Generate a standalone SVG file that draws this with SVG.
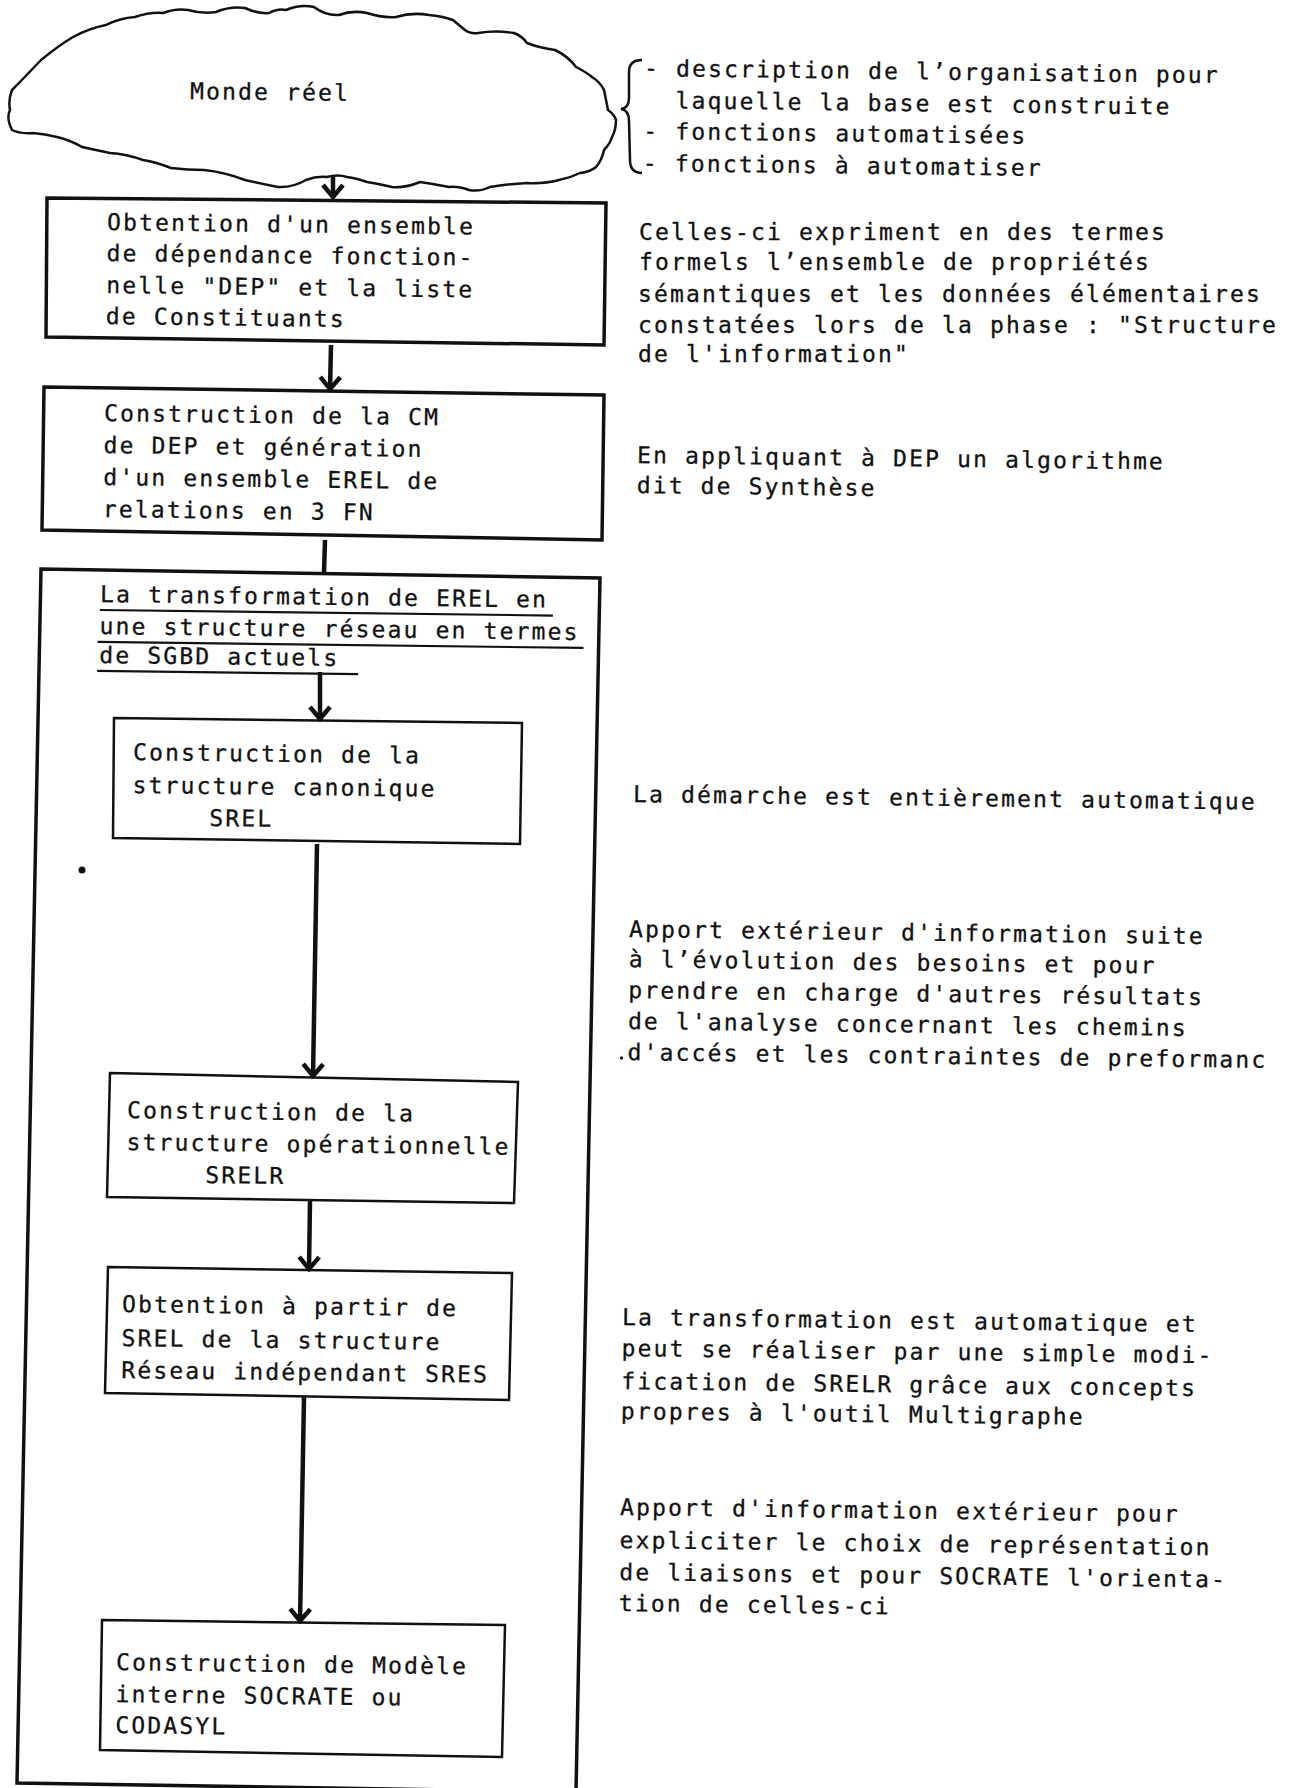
<svg xmlns="http://www.w3.org/2000/svg" width="1290" height="1788" viewBox="0 0 1290 1788">
<defs>
<style>
.t{font-family:"DejaVu Sans Mono","Liberation Mono",monospace;font-size:23px;letter-spacing:2.15px;fill:#111;stroke:#111;stroke-width:0.3}
.box{fill:none;stroke:#111;stroke-width:3.5;stroke-linejoin:miter}
.ibox{fill:none;stroke:#111;stroke-width:2.5}
.con{fill:none;stroke:#111;stroke-width:4.5}
.ul{fill:none;stroke:#111;stroke-width:2.2}
</style>
<marker id="arr" viewBox="-16 -12 18 24" markerWidth="18" markerHeight="24" refX="0" refY="0" orient="auto" markerUnits="userSpaceOnUse">
<path d="M-13,-10 L-1,0 L-13,10" fill="none" stroke="#111" stroke-width="4.5"/>
</marker>
</defs>
<rect width="1290" height="1788" fill="#fff"/>

<g id="monde-reel">
<path class="ibox" d="M12,130 Q6,118 10,110 Q8,100 12,90 Q24,78 41,60 Q58,46 73,37 Q90,28 106,25 Q120,18 135,17 Q150,12 163,13 Q176,8 188,10 Q202,14 216,12 Q230,6 245,8 Q258,14 269,13 Q278,8 286,10 Q300,4 314,7 Q326,16 339,15 Q352,10 367,13 Q382,18 396,17 Q412,12 429,15 Q442,16 453,20 Q460,26 465,30 Q470,34 478,33 Q496,30 514,33 Q522,36 527,43 Q540,48 555,50 Q568,56 576,67 Q586,72 592,77 Q600,82 604,90 Q606,100 608,110 Q614,114 616,120 Q616,130 612,137 Q610,144 604,150 Q602,160 596,167 Q590,172 580,173 Q570,178 559,180 Q544,184 527,183 Q508,184 490,187 Q480,192 469,190 Q458,186 449,187 Q434,184 420,182 Q406,188 392,187 Q380,184 367,182 Q356,178 347,177 Q338,174 327,177 Q316,176 306,180 Q292,188 278,187 Q262,184 245,180 Q224,172 204,170 Q188,170 171,168 Q156,162 143,160 Q126,154 110,153 Q96,150 82,147 Q70,140 57,137 Q45,134 33,133 Q20,134 12,130 Z"/>
<text class="t" x="190" y="99" transform="rotate(0.7 190 99)">Monde réel</text>
</g>

<g id="note-monde">
<path fill="none" stroke="#111" stroke-width="2.5" d="M642,60 Q629,60 629,72 L629,98 Q629,108 621,109 Q629,110 629,121 L630,160 Q630,173 642,173"/>
<g transform="rotate(0.7 644 76)">
<text class="t" x="644" y="76">- description de l’organisation pour</text>
<text class="t" x="676" y="108">laquelle la base est construite</text>
<text class="t" x="644" y="139">- fonctions automatisées</text>
<text class="t" x="644" y="171">- fonctions à automatiser</text>
</g>
</g>

<g id="n1">
<polygon class="box" points="47,198 606,203 604,345 46,337"/>
<g transform="rotate(0.7 107 230)">
<text class="t" x="107" y="230">Obtention d'un ensemble</text>
<text class="t" x="107" y="261">de dépendance fonction-</text>
<text class="t" x="107" y="293">nelle &quot;DEP&quot; et la liste</text>
<text class="t" x="107" y="324">de Constituants</text>
</g>
</g>

<g id="n2">
<polygon class="box" points="44,387 604,395 602,540 42,530"/>
<g transform="rotate(0.7 104 421)">
<text class="t" x="104" y="421">Construction de la CM</text>
<text class="t" x="104" y="453">de DEP et génération</text>
<text class="t" x="104" y="485">d'un ensemble EREL de</text>
<text class="t" x="104" y="517">relations en 3 FN</text>
</g>
</g>

<g id="n-transformation">
<polygon class="box" points="41,569 600,578 576,1792 17,1783"/>
<g transform="rotate(0.7 100 602)">
<text class="t" x="100" y="602">La transformation de EREL en</text>
<line class="ul" x1="100" y1="610" x2="553" y2="610"/>
<text class="t" x="100" y="634">une structure réseau en termes</text>
<line class="ul" x1="98" y1="642" x2="584" y2="642"/>
<text class="t" x="100" y="663">de SGBD actuels</text>
<line class="ul" x1="98" y1="671" x2="359" y2="671"/>
</g>
</g>

<g id="n3">
<polygon class="ibox" points="114,718 522,723 520,844 113,838"/>
<g transform="rotate(0.7 133 760)">
<text class="t" x="133" y="760">Construction de la</text>
<text class="t" x="133" y="793">structure canonique</text>
<text class="t" x="210" y="825">SREL</text>
</g>
</g>

<g id="n4">
<polygon class="ibox" points="110,1073 518,1082 514,1203 107,1197"/>
<g transform="rotate(0.7 127 1118)">
<text class="t" x="127" y="1118">Construction de la</text>
<text class="t" x="127" y="1150">structure opérationnelle</text>
<text class="t" x="206" y="1182">SRELR</text>
</g>
</g>

<g id="n5">
<polygon class="ibox" points="108,1267 512,1273 509,1400 105,1393"/>
<g transform="rotate(0.7 122 1312)">
<text class="t" x="122" y="1312">Obtention à partir de</text>
<text class="t" x="122" y="1346">SREL de la structure</text>
<text class="t" x="122" y="1378">Réseau indépendant SRES</text>
</g>
</g>

<g id="n6">
<polygon class="ibox" points="102,1620 505,1625 502,1757 100,1750"/>
<g transform="rotate(0.7 116 1670)">
<text class="t" x="116" y="1670">Construction de Modèle</text>
<text class="t" x="116" y="1702">interne SOCRATE ou</text>
<text class="t" x="116" y="1733">CODASYL</text>
</g>
</g>

<g id="connectors">
<line class="con" x1="333" y1="176" x2="333" y2="198" marker-end="url(#arr)"/>
<line class="con" x1="331" y1="345" x2="330" y2="390" marker-end="url(#arr)"/>
<line class="con" x1="325" y1="540" x2="324" y2="573"/>
<line class="con" x1="320" y1="672" x2="320" y2="720" marker-end="url(#arr)"/>
<line class="con" x1="317" y1="844" x2="313" y2="1077" marker-end="url(#arr)"/>
<line class="con" x1="310" y1="1201" x2="309" y2="1270" marker-end="url(#arr)"/>
<line class="con" x1="304" y1="1397" x2="300" y2="1622" marker-end="url(#arr)"/>
</g>

<g id="note-1">
<text class="t" x="639" y="240">Celles-ci expriment en des termes</text>
<text class="t" x="639" y="270">formels l’ensemble de propriétés</text>
<text class="t" x="638" y="302">sémantiques et les données élémentaires</text>
<text class="t" x="638" y="333">constatées lors de la phase : &quot;Structure</text>
<text class="t" x="638" y="362">de l'information&quot;</text>
</g>

<g id="note-2" transform="rotate(0.7 637 463)">
<text class="t" x="637" y="463">En appliquant à DEP un algorithme</text>
<text class="t" x="637" y="493">dit de Synthèse</text>
</g>

<g id="note-3" transform="rotate(0.7 633 802)">
<text class="t" x="633" y="802">La démarche est entièrement automatique</text>
</g>

<g id="note-4" transform="rotate(0.7 629 937)">
<text class="t" x="629" y="937">Apport extérieur d'information suite</text>
<text class="t" x="629" y="967">à l’évolution des besoins et pour</text>
<text class="t" x="629" y="998">prendre en charge d'autres résultats</text>
<text class="t" x="629" y="1029">de l'analyse concernant les chemins</text>
<circle cx="623" cy="1058" r="1.6" fill="#111"/>
<text class="t" x="629" y="1060">d'accés et les contraintes de preformanc</text>
</g>

<g id="note-5" transform="rotate(0.7 622 1325)">
<text class="t" x="622" y="1325">La transformation est automatique et</text>
<text class="t" x="622" y="1356">peut se réaliser par une simple modi-</text>
<text class="t" x="622" y="1389">fication de SRELR grâce aux concepts</text>
<text class="t" x="622" y="1419">propres à l'outil Multigraphe</text>
</g>

<g id="note-6" transform="rotate(0.7 620 1515)">
<text class="t" x="620" y="1515">Apport d'information extérieur pour</text>
<text class="t" x="620" y="1548">expliciter le choix de représentation</text>
<text class="t" x="620" y="1580">de liaisons et pour SOCRATE l'orienta-</text>
<text class="t" x="620" y="1611">tion de celles-ci</text>
</g>

<circle cx="82" cy="870" r="3.5" fill="#111"/>
</svg>
